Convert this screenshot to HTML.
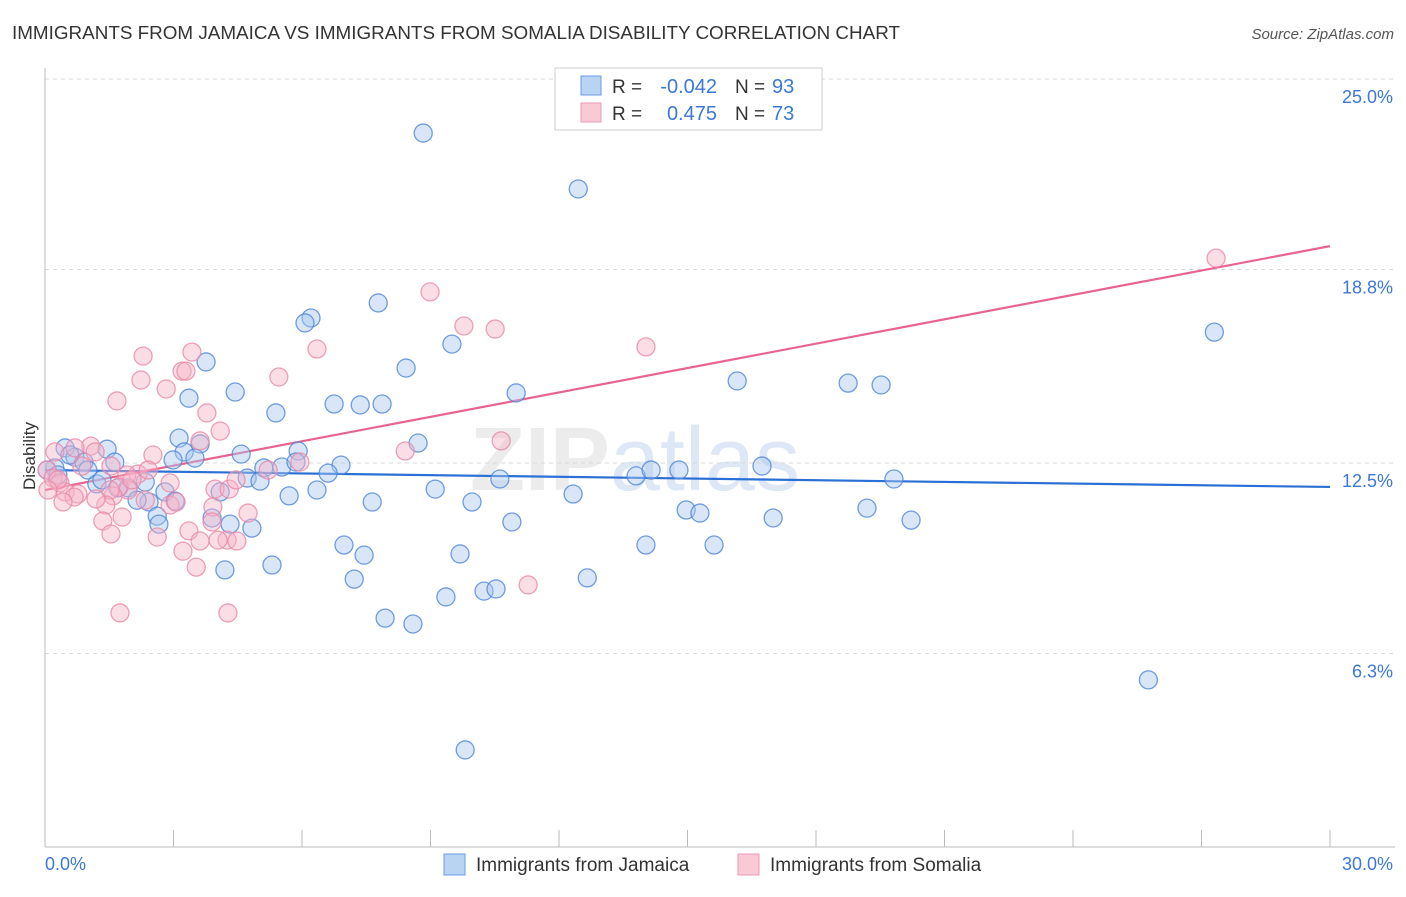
<!DOCTYPE html>
<html><head><meta charset="utf-8"><style>
body{margin:0;background:#fff;font-family:"Liberation Sans",sans-serif;}
svg text{font-family:"Liberation Sans",sans-serif;}
</style></head><body>
<svg id="chart" width="1406" height="892">
<text x="12" y="39" font-size="18" fill="#333" textLength="888" lengthAdjust="spacingAndGlyphs">IMMIGRANTS FROM JAMAICA VS IMMIGRANTS FROM SOMALIA DISABILITY CORRELATION CHART</text>
<text x="1394" y="39" font-size="15" fill="#555" font-style="italic" text-anchor="end">Source: ZipAtlas.com</text>
<text x="35" y="456" font-size="17" fill="#333" text-anchor="middle" transform="rotate(-90 35 456)">Disability</text>
<text x="635" y="490" font-size="90" fill="#ececec" font-weight="bold" text-anchor="middle">ZIP<tspan fill="#dde7f5" font-weight="normal">atlas</tspan></text>
<g id="grid"></g><g id="axes"></g><g id="trend"></g><g id="pts"></g>
<g>
<rect x="555" y="68" width="267" height="62" fill="#fff" stroke="#ccc"/>
<rect x="581" y="76" width="20" height="19" fill="#b9d3f3" stroke="#6b9be0"/>
<rect x="581" y="103" width="20" height="19" fill="#f9c9d6" stroke="#eb9ab4"/>
<text x="612" y="93" font-size="19" fill="#333">R =</text>
<text x="717" y="93" font-size="20" fill="#3b78d8" text-anchor="end">-0.042</text>
<text x="735" y="93" font-size="19" fill="#333">N =</text>
<text x="772" y="93" font-size="20" fill="#3b78d8">93</text>
<text x="612" y="120" font-size="19" fill="#333">R =</text>
<text x="717" y="120" font-size="20" fill="#3b78d8" text-anchor="end">0.475</text>
<text x="735" y="120" font-size="19" fill="#333">N =</text>
<text x="772" y="120" font-size="20" fill="#3b78d8">73</text>
</g>
<g>
<rect x="444" y="854" width="21" height="21" fill="#b9d3f3" stroke="#6b9be0"/>
<text x="476" y="871" font-size="19" fill="#333">Immigrants from Jamaica</text>
<rect x="738" y="854" width="21" height="21" fill="#f9c9d6" stroke="#eb9ab4"/>
<text x="770" y="871" font-size="19" fill="#333">Immigrants from Somalia</text>
</g>
</svg>
<script>
const yTicks=[25.0,18.8,12.5,6.3];
const yTickLabels=["25.0%","18.8%","12.5%","6.3%"];
const xTickLabels=["0.0%","30.0%"];
const jamX=[8.83,12.45,27.30,6.21,6.07,7.78,9.50,8.43,3.76,16.16,18.75,19.52,11.00,4.44,3.36,6.75,7.36,7.87,5.39,8.71,3.13,0.47,1.45,3.62,5.91,4.58,3.25,2.99,3.50,0.70,1.63,0.91,0.23,1.00,5.11,5.53,5.86,6.91,6.61,4.72,5.02,10.62,13.80,14.15,14.80,16.74,19.82,1.21,1.94,2.34,2.80,4.09,6.35,5.70,9.11,9.97,12.33,7.64,2.43,2.15,3.04,2.62,3.90,4.32,4.83,2.66,10.90,14.97,15.29,17.00,19.19,20.22,6.98,7.45,9.69,14.03,15.62,4.20,5.30,7.22,12.66,9.36,10.25,10.53,7.94,8.59,25.76,9.81,1.33,0.05,0.30,1.70,0.58];
const jamY=[23.24,21.42,16.76,17.22,17.06,17.71,16.37,15.59,15.79,15.17,15.10,15.04,14.78,14.81,14.61,14.42,14.39,14.42,14.13,13.15,13.31,12.99,12.95,13.12,12.89,12.79,12.86,12.60,12.66,12.69,12.53,12.53,12.34,12.27,12.34,12.37,12.53,12.43,12.17,12.01,11.91,11.98,12.08,12.27,12.27,12.40,11.98,11.82,11.69,11.88,11.56,11.56,11.62,11.43,11.65,11.23,11.49,11.23,11.23,11.29,11.26,10.77,10.71,10.51,10.38,10.51,10.58,10.97,10.87,10.71,11.03,10.64,9.83,9.50,9.54,9.83,9.83,9.02,9.18,8.72,8.76,8.14,8.33,8.40,7.45,7.26,5.44,3.16,11.95,12.27,12.11,11.69,12.76];
const somX=[27.34,8.99,9.78,10.51,14.03,6.35,2.29,3.43,3.20,3.29,5.46,2.24,2.83,1.68,3.78,4.09,3.62,10.65,8.41,1.07,0.70,0.23,1.17,2.52,0.86,1.54,0.05,0.19,0.35,0.47,0.77,0.68,0.42,0.30,2.17,2.41,1.91,1.94,1.73,1.59,2.92,2.03,1.52,2.92,3.06,1.42,1.19,1.35,1.80,3.36,3.62,4.25,4.48,4.04,4.74,3.92,2.62,3.22,3.53,1.54,11.28,1.75,4.27,3.97,4.30,5.95,5.21,4.46,3.90,2.34,0.07];
const somY=[19.17,18.07,16.96,16.86,16.28,16.21,15.98,16.11,15.49,15.49,15.30,15.20,14.91,14.52,14.13,13.54,13.22,13.22,12.89,13.05,12.99,12.86,12.86,12.76,12.40,12.40,12.27,12.01,11.85,11.56,11.49,11.39,11.23,11.95,12.14,12.27,12.11,11.62,11.72,11.43,11.85,11.95,11.62,11.13,11.23,11.13,11.33,10.61,10.74,10.29,9.96,9.99,9.96,9.99,10.87,11.07,10.09,9.63,9.11,10.19,8.53,7.62,7.62,11.65,11.65,12.53,12.27,11.95,10.58,11.29,11.62];
const jamTrend=[12.27,11.72];
const somTrend=[11.62,19.56];
const X0=45,X1=1330,Y0=847,PXY=30.72;
const xs=v=>X0+v*(X1-X0)/30;
const ys=v=>Y0-v*PXY;
const NS="http://www.w3.org/2000/svg";
function mk(tag,attrs,parent){const e=document.createElementNS(NS,tag);for(const k in attrs)e.setAttribute(k,attrs[k]);document.getElementById(parent).appendChild(e);return e;}
yTicks.forEach((t,i)=>{
 const g=mk('line',{x1:45,x2:1395,y1:ys(t),y2:ys(t),stroke:'#d8d8d8','stroke-dasharray':'4,4'},'grid');
 
 
 const l=mk('text',{x:1393,y:ys(t)+24,'font-size':18,fill:'#3b78d8','text-anchor':'end'},'axes');
 l.textContent=yTickLabels[i];
 
 
});
const ax=mk('line',{x1:45,x2:45,y1:68,y2:847,stroke:'#bbb'},'axes');


const bx=mk('line',{x1:45,x2:1395,y1:847,y2:847,stroke:'#bbb'},'axes');


for(let i=0;i<=10;i++){
 const t=mk('line',{x1:xs(i*3),x2:xs(i*3),y1:830,y2:847,stroke:'#bbb'},'axes');
 
 
}
[[0,45,'start'],[30,1393,'end']].forEach((p,i)=>{
 const t=mk('text',{x:p[1],y:870,'font-size':18,fill:'#3b78d8','text-anchor':p[2]},'axes');
 t.textContent=xTickLabels[i];
 
 
});
function pts(X,Y,fill,stroke,name){X.forEach((x,i)=>{
 const c=mk('circle',{cx:xs(x),cy:ys(Y[i]),r:9,fill:fill,'fill-opacity':0.45,stroke:stroke,'stroke-width':1.3,'stroke-opacity':0.8},'pts');
 
 
});}
pts(jamX,jamY,'#a9c8f0','#4f86d8','jamaica-point');
pts(somX,somY,'#f6b3c7','#e889a8','somalia-point');
const l1=mk('line',{x1:xs(0),x2:xs(30),y1:ys(jamTrend[0]),y2:ys(jamTrend[1]),stroke:'#2a6fd6','stroke-width':2.2},'trend');


const l2=mk('line',{x1:xs(0),x2:xs(30),y1:ys(somTrend[0]),y2:ys(somTrend[1]),stroke:'#e8648f','stroke-width':2.2},'trend');


</script>
</body></html>
